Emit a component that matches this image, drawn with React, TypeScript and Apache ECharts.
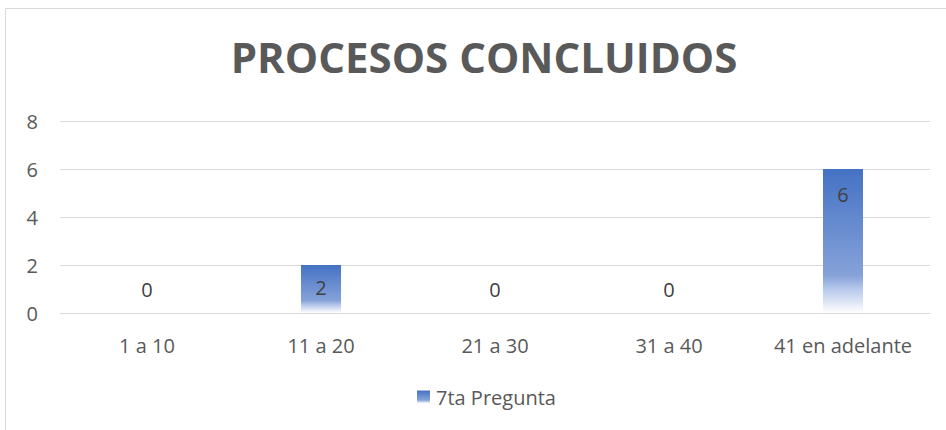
import React, { useEffect, useRef } from "react";
import * as echarts from "echarts";

const categories = ["1 a 10", "11 a 20", "21 a 30", "31 a 40", "41 en adelante"];
const values = [0, 2, 0, 0, 6];
const seriesName = "7ta Pregunta";
const titleText = "PROCESOS CONCLUIDOS";

const FONT = "'Open Sans', 'Noto Sans', sans-serif";

export default function App() {
  const ref = useRef<HTMLDivElement>(null);
  useEffect(() => {
    if (!ref.current) return;
    const chart = echarts.init(ref.current, undefined, { renderer: "svg" });
    const gradient = new echarts.graphic.LinearGradient(0, 0, 0, 1, [
      { offset: 0, color: "#4472C4" },
      { offset: 0.74, color: "#86A2D9" },
      { offset: 0.84, color: "#B9CAEB" },
      { offset: 1, color: "#FFFFFF" },
    ]);
    chart.setOption({
      animation: false,
      backgroundColor: "#ffffff",
      graphic: [
        {
          type: "rect",
          shape: { x: 5.5, y: 8.5, width: 1200, height: 800 },
          style: { fill: "none", stroke: "#D9D9D9", lineWidth: 1 },
          silent: true,
          z: -10,
        },
      ],
      title: {
        text: titleText,
        left: 484,
        textAlign: "center",
        top: 35,
        padding: 0,
        textStyle: {
          fontFamily: FONT,
          fontWeight: "bold",
          fontSize: 42,
          color: "#595959",
        },
      },
      legend: {
        data: [seriesName],
        left: 417,
        top: 387,
        padding: 0,
        itemWidth: 13,
        itemHeight: 13,
        icon: "rect",
        textStyle: { fontFamily: FONT, fontSize: 20, color: "#595959", padding: [0, 0, 0, 1] },
      },
      grid: { left: 60, right: 16, top: 121, bottom: 117, containLabel: false },
      xAxis: {
        type: "category",
        data: categories,
        axisLine: { show: true, lineStyle: { color: "#D9D9D9", width: 1 } },
        axisTick: { show: false },
        axisLabel: { interval: 0, fontFamily: FONT, fontSize: 20, color: "#595959", margin: 22 },
      },
      yAxis: {
        type: "value",
        min: 0,
        max: 8,
        interval: 2,
        axisLine: { show: false },
        axisTick: { show: false },
        splitLine: { lineStyle: { color: "#D9D9D9", width: 1 } },
        axisLabel: { fontFamily: FONT, fontSize: 20, color: "#595959", margin: 22 },
      },
      series: [
        {
          name: seriesName,
          type: "bar",
          barWidth: 40,
          data: values.map((v) => ({
            value: v,
            label:
              v === 0
                ? { position: "top", distance: 14 }
                : { position: "insideTop", distance: v < 4 ? 12 : 15 },
          })),
          itemStyle: { color: gradient },
          label: {
            show: true,
            fontFamily: FONT,
            fontSize: 20,
            color: "#404040",
          },
        },
      ],
    });
    return () => chart.dispose();
  }, []);
  return (
    <div
      ref={ref}
      style={{ position: "fixed", left: 0, top: 0, width: 946, height: 430 }}
    />
  );
}
